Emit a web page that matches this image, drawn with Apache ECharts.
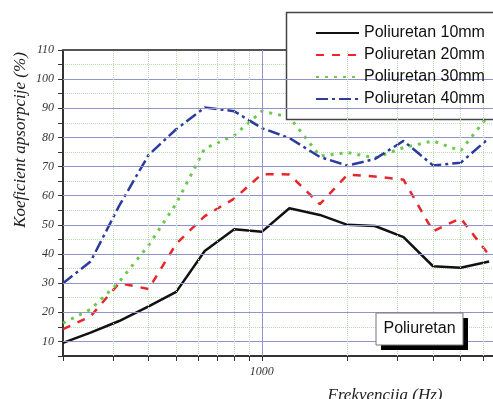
<!DOCTYPE html>
<html lang="sr">
<head>
    <meta charset="UTF-8">
    <title>Poliuretan</title>
    <script src="https://cdn.jsdelivr.net/npm/echarts@6.0.0/dist/echarts.min.js"></script>
    <style>
        html, body {
            margin: 0;
            padding: 0;
            background: #fff;
        }

        #main {
            width: 493px;
            height: 399px;
        }
    </style>
</head>
<body>
<div id="main"></div>

<script type="text/javascript">
    // frekvencije (Hz), tercne oktave
    let freqs = [200, 250, 315, 400, 500, 630, 800, 1000, 1250, 1600, 2000, 2500, 3150, 4000, 5000, 6300]

    // koeficient apsorpcije (%)
    let p10 = [9.5, 13, 17, 22, 27, 41, 48.5, 47.6, 55.7, 53.4, 50, 49.6, 45.8, 35.8, 35.3, 37.4]
    let p20 = [14.2, 18.6, 30, 28, 43.5, 53, 59, 67.4, 67.3, 57.1, 67.2, 66.6, 65.5, 47.8, 52.3, 39.6]
    let p30 = [16.3, 21, 30.4, 43, 57.3, 76.2, 80.7, 89, 87, 73.6, 74.8, 73, 76.5, 78.8, 75.4, 87.8]
    let p40 = [30, 37.4, 56.5, 74, 82.8, 90.3, 89, 83.2, 79.8, 73.3, 70.3, 72.6, 78.8, 70.4, 71.3, 79.8]

    let names = ['Poliuretan 10mm', 'Poliuretan 20mm', 'Poliuretan 30mm', 'Poliuretan 40mm']

    // oznake i mreza
    let yLabels = [10, 20, 30, 40, 50, 60, 70, 80, 90, 100, 110]
    let yMajor = [10, 20, 30, 40, 50, 60, 70, 80, 90, 100]
    let xLabels = [1000]
    let xMajor = [1000]
    let xMinor = [300, 400, 500, 600, 700, 800, 900, 2000, 3000, 4000, 5000, 6000]
    let xTicks = [200, 300, 400, 500, 600, 700, 800, 900, 1000, 2000, 3000, 4000, 5000, 6000]

    const serif = '"Liberation Serif", "DejaVu Serif", serif'
    const sans = '"Liberation Sans", Arial, sans-serif'
    const blueGrid = {color: '#9393cc', width: 1, type: 'solid'}
    const greenGrid = {color: '#b9ddb0', width: 1, type: 'dotted'}

    function pairs(values) {
        return freqs.map(function (f, i) {
            return [f, values[i]]
        })
    }

    function lineSeries(name, values, color, type, width) {
        return {
            name: name,
            type: 'line',
            data: pairs(values),
            symbol: 'none',
            z: 3,
            lineStyle: {color: color, width: width, type: type, cap: 'butt'},
            itemStyle: {color: color},
            emphasis: {disabled: true}
        }
    }

    let gridLines = []
    yMajor.forEach(function (v) {
        gridLines.push({yAxis: v, lineStyle: blueGrid})
    })
    xMinor.forEach(function (v) {
        gridLines.push({xAxis: v, lineStyle: greenGrid})
    })
    xMajor.forEach(function (v) {
        gridLines.push({xAxis: v, lineStyle: blueGrid})
    })

    let chart = echarts.init(document.getElementById('main'))
    let option = {
        backgroundColor: '#fff',
        animation: false,
        grid: {
            left: 63,
            right: 0,
            top: 50,
            bottom: 43
        },
        legend: {
            data: names,
            orient: 'vertical',
            left: 286,
            top: 12,
            z: 6,
            padding: [12, 0, 11, 29],
            itemWidth: 43,
            itemHeight: 18,
            itemGap: 4,
            itemStyle: {opacity: 0},
            selectedMode: false,
            textStyle: {
                fontFamily: sans,
                fontSize: 16,
                lineHeight: 18,
                color: '#111'
            }
        },
        xAxis: [{
            type: 'log',
            logBase: 10,
            min: 200,
            max: 6500,
            axisLine: {lineStyle: {color: '#333', width: 2}},
            axisTick: {
                show: true,
                length: 5,
                customValues: xTicks,
                lineStyle: {color: '#333', width: 1}
            },
            axisLabel: {
                customValues: xLabels,
                showMinLabel: false,
                showMaxLabel: false,
                margin: 10,
                fontFamily: serif,
                fontStyle: 'italic',
                fontSize: 12,
                color: '#333',
                formatter: function (v) {
                    return String(Math.round(v))
                }
            },
            splitLine: {show: false},
            minorTick: {show: false}
        }, {
            type: 'log',
            logBase: 10,
            min: 200,
            max: 6500,
            position: 'top',
            axisLine: {lineStyle: {color: '#555', width: 2}},
            axisTick: {show: false},
            axisLabel: {show: false},
            splitLine: {show: false}
        }],
        yAxis: {
            type: 'value',
            min: 5,
            max: 110,
            interval: 5,
            axisLine: {show: true, lineStyle: {color: '#333', width: 2}},
            axisTick: {show: true, length: 5, lineStyle: {color: '#333', width: 1}},
            axisLabel: {
                margin: 9,
                fontFamily: serif,
                fontStyle: 'italic',
                fontSize: 12,
                color: '#333',
                formatter: function (v) {
                    return yLabels.indexOf(v) >= 0 ? String(v) : ''
                }
            },
            splitLine: {show: true, lineStyle: greenGrid}
        },
        graphic: [
            {
                // okvir legende, izlazi preko desne ivice
                type: 'rect',
                z: 5,
                shape: {x: 286.5, y: 12.5, width: 240, height: 107},
                style: {fill: '#fff', stroke: '#444', lineWidth: 1.5}
            },
            {
                type: 'text',
                x: 21,
                y: 140,
                rotation: Math.PI / 2,
                style: {
                    text: 'Koeficient apsorpcije (%)',
                    font: 'italic 17px ' + serif,
                    fill: '#222',
                    textAlign: 'center',
                    textVerticalAlign: 'middle'
                }
            },
            {
                type: 'text',
                x: 385,
                y: 396,
                style: {
                    text: 'Frekvencija (Hz)',
                    font: 'italic 17px ' + serif,
                    fill: '#222',
                    textAlign: 'center',
                    textVerticalAlign: 'middle'
                }
            },
            {
                type: 'rect',
                z: 10,
                shape: {x: 381, y: 318, width: 87, height: 32},
                style: {fill: '#000'}
            },
            {
                type: 'rect',
                z: 11,
                shape: {x: 376, y: 313, width: 87, height: 32},
                style: {fill: '#fff', stroke: '#777', lineWidth: 1}
            },
            {
                type: 'text',
                z: 12,
                x: 419.5,
                y: 329,
                style: {
                    text: 'Poliuretan',
                    font: '16px ' + sans,
                    fill: '#111',
                    textAlign: 'center',
                    textVerticalAlign: 'middle'
                }
            }
        ],
        series: [
            {
                name: 'mreza',
                type: 'line',
                data: [],
                z: 1,
                silent: true,
                markLine: {
                    silent: true,
                    symbol: 'none',
                    label: {show: false},
                    emphasis: {disabled: true},
                    data: gridLines
                }
            },
            lineSeries(names[0], p10, '#111111', 'solid', 2.5),
            lineSeries(names[1], p20, '#e8262a', [8, 8], 2.5),
            lineSeries(names[2], p30, '#6cc94c', [3, 6], 3),
            lineSeries(names[3], p40, '#2c3c9e', [12, 4, 3, 4], 2.5)
        ]
    }

    chart.setOption(option)
</script>
</body>
</html>
